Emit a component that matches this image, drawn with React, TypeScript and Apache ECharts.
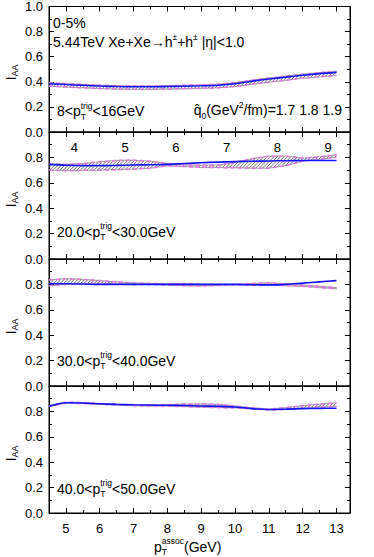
import React, { useEffect, useRef } from 'react';
import * as echarts from 'echarts';

// ---------------- data ----------------
const PT_ASSOC = [4.5, 5, 5.5, 6, 6.5, 7, 7.5, 8, 8.5, 9, 9.5, 10, 10.5, 11, 11.5, 12, 12.5, 13];

// panel 1 : 8 < pT trig < 16 GeV
const BLUE_8_16 = [0.385, 0.378, 0.372, 0.366, 0.362, 0.36, 0.36, 0.362, 0.365, 0.368, 0.373, 0.385, 0.405, 0.422, 0.437, 0.452, 0.465, 0.475];
const UPPER_8_16 = [0.392, 0.386, 0.379, 0.373, 0.369, 0.367, 0.367, 0.369, 0.372, 0.375, 0.38, 0.393, 0.413, 0.43, 0.445, 0.46, 0.473, 0.483];
const LOWER_8_16 = [0.366, 0.358, 0.352, 0.346, 0.342, 0.34, 0.34, 0.342, 0.345, 0.348, 0.352, 0.362, 0.38, 0.397, 0.412, 0.428, 0.44, 0.45];

// panel 2 : 20 < pT trig < 30 GeV
const BLUE_20_30 = [0.745, 0.738, 0.735, 0.735, 0.737, 0.74, 0.742, 0.745, 0.752, 0.758, 0.763, 0.767, 0.77, 0.772, 0.774, 0.775, 0.776, 0.776];
const UPPER_20_30 = [0.748, 0.745, 0.752, 0.765, 0.776, 0.778, 0.77, 0.752, 0.742, 0.738, 0.74, 0.76, 0.79, 0.81, 0.81, 0.795, 0.805, 0.82];
const LOWER_20_30 = [0.7, 0.695, 0.698, 0.7, 0.703, 0.708, 0.715, 0.735, 0.728, 0.722, 0.72, 0.718, 0.715, 0.715, 0.735, 0.77, 0.785, 0.8];

// panel 3 : 30 < pT trig < 40 GeV
const BLUE_30_40 = [0.805, 0.805, 0.803, 0.8, 0.8, 0.8, 0.8, 0.8, 0.8, 0.8, 0.8, 0.8, 0.797, 0.796, 0.8, 0.81, 0.82, 0.83];
const UPPER_30_40 = [0.835, 0.845, 0.84, 0.83, 0.82, 0.812, 0.808, 0.805, 0.805, 0.8, 0.8, 0.8, 0.808, 0.812, 0.805, 0.795, 0.785, 0.775];
const LOWER_30_40 = [0.79, 0.8, 0.805, 0.805, 0.805, 0.8, 0.8, 0.795, 0.79, 0.788, 0.792, 0.797, 0.795, 0.795, 0.79, 0.785, 0.775, 0.765];

// panel 4 : 40 < pT trig < 50 GeV
const BLUE_40_50 = [0.84, 0.868, 0.866, 0.86, 0.855, 0.852, 0.85, 0.848, 0.846, 0.843, 0.84, 0.835, 0.822, 0.815, 0.818, 0.822, 0.824, 0.825];
const UPPER_40_50 = [0.845, 0.872, 0.87, 0.862, 0.855, 0.85, 0.85, 0.852, 0.858, 0.86, 0.855, 0.842, 0.828, 0.818, 0.83, 0.845, 0.858, 0.867];
const LOWER_40_50 = [0.838, 0.865, 0.862, 0.855, 0.85, 0.845, 0.843, 0.842, 0.838, 0.833, 0.83, 0.828, 0.82, 0.812, 0.815, 0.825, 0.835, 0.84];

const X_MIN = 4.5;
const X_MAX = 13.4;
const X_MAJOR = [5, 6, 7, 8, 9, 10, 11, 12, 13];
const X_MINOR = [5.5, 6.5, 7.5, 8.5, 9.5, 10.5, 11.5, 12.5];
const TOP_LABELS = [4, 5, 6, 7, 8, 9];
const TRIG_LO = ['8', '20.0', '30.0', '40.0'];
const TRIG_HI = ['16', '30.0', '40.0', '50.0'];
const QHAT = ['1.7', '1.8', '1.9'];
const CENTRALITY = '0-5%';

const PANELS = [
  { blue: BLUE_8_16, upper: UPPER_8_16, lower: LOWER_8_16 },
  { blue: BLUE_20_30, upper: UPPER_20_30, lower: LOWER_20_30 },
  { blue: BLUE_30_40, upper: UPPER_30_40, lower: LOWER_30_40 },
  { blue: BLUE_40_50, upper: UPPER_40_50, lower: LOWER_40_50 },
];

// ---------------- layout ----------------
const W = 374;
const H = 557;
const GRID_LEFT = 49;
const GRID_RIGHT = 24;
const GRID_TOPS = [5, 132, 259, 386];
const GRID_H = 127;
const FONT = '"Liberation Sans", Arial, Helvetica, sans-serif';

const pairs = (ys: number[]) => PT_ASSOC.map((x, i) => [x, ys[i]]);

// hatch renderer for the band between two curves
const makeHatch = (upper: number[], lower: number[]) => (_params: any, api: any) => {
  const U = PT_ASSOC.map((x, k) => api.coord([x, upper[k]]));
  const L = PT_ASSOC.map((x, k) => api.coord([x, lower[k]]));
  const interp = (P: number[][], xp: number) => {
    for (let k = 0; k < P.length - 1; k++) {
      if (xp >= P[k][0] - 1e-6 && xp <= P[k + 1][0] + 1e-6) {
        const t = (xp - P[k][0]) / (P[k + 1][0] - P[k][0]);
        return P[k][1] + t * (P[k + 1][1] - P[k][1]);
      }
    }
    return NaN;
  };
  const x0 = U[0][0];
  const x1 = U[U.length - 1][0];
  let yMin = Infinity;
  let yMax = -Infinity;
  U.concat(L).forEach((p) => {
    yMin = Math.min(yMin, p[1]);
    yMax = Math.max(yMax, p[1]);
  });
  const step = 3.4;
  const dx = 0.4;
  const children: any[] = [];
  const push = (s: number[], e: number[]) => {
    children.push({
      type: 'line',
      shape: { x1: s[0] - 0.3, y1: s[1] + 0.3, x2: e[0] + 0.3, y2: e[1] - 0.3 },
      style: { stroke: '#4d4d4d', lineWidth: 0.8 },
      silent: true,
    });
  };
  for (let c = x0 + yMin - 1; c <= x1 + yMax + step; c += step) {
    let start: number[] | null = null;
    let last: number[] | null = null;
    for (let xp = x0; xp <= x1 + 1e-6; xp += dx) {
      const yp = c - xp;
      const a = interp(U, xp);
      const b = interp(L, xp);
      const inside = yp >= Math.min(a, b) && yp <= Math.max(a, b);
      if (inside) {
        if (!start) start = [xp, yp];
        last = [xp, yp];
      } else if (start && last) {
        push(start, last);
        start = null;
        last = null;
      }
    }
    if (start && last) push(start, last);
  }
  return { type: 'group', children };
};

export default function App() {
  const ref = useRef<HTMLDivElement>(null);

  useEffect(() => {
    if (!ref.current) return;
    const chart = echarts.init(ref.current, undefined, { renderer: 'svg' });

    const grids: any[] = [];
    const xAxes: any[] = [];
    const yAxes: any[] = [];
    const series: any[] = [];
    const lineCol = '#000';

    PANELS.forEach((p, i) => {
      grids.push({
        left: GRID_LEFT,
        right: GRID_RIGHT,
        top: GRID_TOPS[i],
        height: GRID_H,
        show: true,
        borderColor: '#000',
        borderWidth: 1,
        backgroundColor: 'transparent',
      });
      const isLast = i === PANELS.length - 1;
      const baseX = xAxes.length;
      xAxes.push({
        type: 'value', gridIndex: i, position: 'bottom', min: X_MIN, max: X_MAX,
        axisLine: { show: true, lineStyle: { color: lineCol, width: 1 } },
        axisTick: { show: true, inside: true, length: 5, customValues: X_MAJOR, lineStyle: { color: lineCol } },
        axisLabel: { show: isLast, customValues: X_MAJOR, margin: 9, fontSize: 13, color: '#000', fontFamily: FONT },
        splitLine: { show: false },
      });
      xAxes.push({
        type: 'value', gridIndex: i, position: 'bottom', min: X_MIN, max: X_MAX,
        axisLine: { show: false },
        axisTick: { show: true, inside: true, length: 3, customValues: X_MINOR, lineStyle: { color: lineCol } },
        axisLabel: { show: false },
        splitLine: { show: false },
      });
      xAxes.push({
        type: 'value', gridIndex: i, position: 'top', min: X_MIN, max: X_MAX,
        axisLine: { show: true, lineStyle: { color: lineCol, width: 1 } },
        axisTick: { show: true, inside: true, length: 5, customValues: X_MAJOR, lineStyle: { color: lineCol } },
        axisLabel: { show: false },
        splitLine: { show: false },
      });
      xAxes.push({
        type: 'value', gridIndex: i, position: 'top', min: X_MIN, max: X_MAX,
        axisLine: { show: false },
        axisTick: { show: true, inside: true, length: 3, customValues: X_MINOR, lineStyle: { color: lineCol } },
        axisLabel: { show: false },
        splitLine: { show: false },
      });
      if (i === 1) {
        xAxes.push({
          type: 'value', gridIndex: i, position: 'top',
          min: X_MIN / 1.5 + 0.5, max: X_MAX / 1.5 + 0.5,
          axisLine: { show: false },
          axisTick: { show: false },
          axisLabel: { show: true, inside: true, customValues: TOP_LABELS, margin: 9, fontSize: 13, color: '#000', fontFamily: FONT },
          splitLine: { show: false },
        });
      }
      const baseY = yAxes.length;
      yAxes.push({
        type: 'value', gridIndex: i, position: 'left', min: 0, max: 1, interval: 0.2,
        axisLine: { show: true, lineStyle: { color: lineCol, width: 1 } },
        axisTick: { show: true, inside: true, length: 5, lineStyle: { color: lineCol } },
        minorTick: { show: true, splitNumber: 2, length: 3, lineStyle: { color: lineCol } },
        axisLabel: {
          show: true, margin: 6, fontSize: 13, color: '#000', fontFamily: FONT,
          showMaxLabel: i === 0, showMinLabel: true,
          formatter: (v: number) => v.toFixed(1),
        },
        splitLine: { show: false },
      });
      yAxes.push({
        type: 'value', gridIndex: i, position: 'right', min: 0, max: 1, interval: 0.2,
        axisLine: { show: true, lineStyle: { color: lineCol, width: 1 } },
        axisTick: { show: true, inside: true, length: 5, lineStyle: { color: lineCol } },
        minorTick: { show: true, splitNumber: 2, length: 3, lineStyle: { color: lineCol } },
        axisLabel: { show: false },
        splitLine: { show: false },
      });

      series.push({
        type: 'custom', coordinateSystem: 'cartesian2d', xAxisIndex: baseX, yAxisIndex: baseY,
        data: [[PT_ASSOC[0], p.upper[0]]], encode: { x: 0, y: 1 },
        renderItem: makeHatch(p.upper, p.lower), silent: true, z: 1,
      });
      const common = {
        type: 'line', xAxisIndex: baseX, yAxisIndex: baseY, smooth: false, symbol: 'none', silent: true,
      };
      series.push({ ...common, data: pairs(p.upper), lineStyle: { color: '#8a8a8a', width: 0.8 }, z: 2 });
      series.push({ ...common, data: pairs(p.lower), lineStyle: { color: '#8a8a8a', width: 0.8 }, z: 2 });
      series.push({ ...common, data: pairs(p.upper), lineStyle: { color: '#e27ae2', width: 1.5, type: [4, 3] }, z: 3 });
      series.push({ ...common, data: pairs(p.lower), lineStyle: { color: '#e27ae2', width: 1.5, type: [4, 3] }, z: 3 });
      series.push({ ...common, smooth: 0.3, data: pairs(p.blue), lineStyle: { color: '#1414f5', width: 1.6 }, z: 4 });
    });

    const mainRich = {
      n: { fontSize: 14, fontFamily: FONT, fill: '#000', lineHeight: 20 },
      sup: { fontSize: 8.5, fontFamily: FONT, fill: '#000', verticalAlign: 'top', lineHeight: 10 },
      sub: { fontSize: 8.5, fontFamily: FONT, fill: '#000', verticalAlign: 'bottom', lineHeight: 10, width: 0 },
      subw: { fontSize: 8.5, fontFamily: FONT, fill: '#000', verticalAlign: 'bottom', lineHeight: 10 },
    };

    const graphics: any[] = [];
    graphics.push({
      type: 'text', x: 53, y: 23, silent: true,
      style: { text: CENTRALITY, font: `14px ${FONT}`, fill: '#000', align: 'left', verticalAlign: 'middle' },
    });
    graphics.push({
      type: 'text', x: 53, y: 42, silent: true,
      style: {
        text: '{n|5.44TeV Xe+Xe\u2192h}{sup|\u00b1}{n|+h}{sup|\u00b1}{n| |\u03b7|<1.0}',
        rich: mainRich, align: 'left', verticalAlign: 'middle',
      },
    });
    const labelY = [111, 231.5, 360.5, 488.5];
    PANELS.forEach((_, i) => {
      graphics.push({
        type: 'text', x: 57, y: labelY[i], silent: true,
        style: {
          text: `{n|${TRIG_LO[i]}<p}{sub|T}{sup|trig}{n|<${TRIG_HI[i]}GeV}`,
          rich: mainRich, align: 'left', verticalAlign: 'middle',
        },
      });
      const cy = GRID_TOPS[i] + GRID_H / 2 + 4;
      graphics.push({
        type: 'text', x: 10, y: cy, rotation: Math.PI / 2, silent: true,
        style: {
          text: '{i|I}{s|AA}',
          rich: {
            i: { fontSize: 15, fontFamily: FONT, fill: '#000', lineHeight: 18 },
            s: { fontSize: 9, fontFamily: FONT, fill: '#000', verticalAlign: 'bottom', lineHeight: 10 },
          },
          align: 'center', verticalAlign: 'middle',
        },
      });
    });
    graphics.push({
      type: 'text', x: 342, y: 110, silent: true,
      style: {
        text: `{n|q\u0302}{subw|0}{n|(GeV}{sup|2}{n|/fm)=${QHAT.join(' ')}}`,
        rich: mainRich, align: 'right', verticalAlign: 'middle',
      },
    });
    graphics.push({
      type: 'text', x: 154, y: 546.5, silent: true,
      style: {
        text: '{n|p}{sub|T}{sup|assoc}{n|(GeV)}',
        rich: mainRich, align: 'left', verticalAlign: 'middle',
      },
    });

    chart.setOption({
      animation: false,
      backgroundColor: '#fff',
      textStyle: { fontFamily: FONT },
      grid: grids,
      xAxis: xAxes,
      yAxis: yAxes,
      series,
      graphic: { elements: graphics },
    });

    return () => chart.dispose();
  }, []);

  return (
    <div ref={ref} style={{ position: 'fixed', left: 0, top: 0, width: W, height: H, background: '#fff' }} />
  );
}
